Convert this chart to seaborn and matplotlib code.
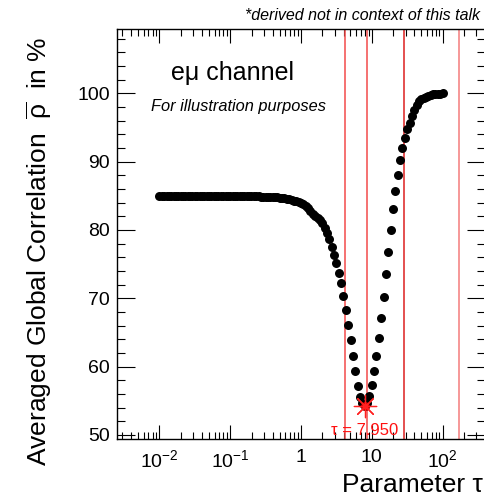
import numpy as np
import pandas as pd
import matplotlib
matplotlib.use("Agg")
import matplotlib.pyplot as plt
import matplotlib.ticker as mticker
import seaborn as sns

# ---------------- data ----------------
tau_exponent_start = -2.0
points_per_decade = 30
rho_values = [
    # tau = 0.01 ... (flat plateau)
    84.93, 84.93, 84.93, 84.93, 84.93, 84.93, 84.93, 84.93, 84.93, 84.93,
    84.93, 84.93, 84.93, 84.93, 84.93, 84.93, 84.93, 84.93, 84.93, 84.93,
    84.93, 84.93, 84.93, 84.93, 84.93, 84.93, 84.93, 84.93, 84.93, 84.93,
    84.93, 84.93, 84.93, 84.93, 84.93, 84.92, 84.92, 84.92, 84.91, 84.91,
    84.90, 84.90, 84.89, 84.88, 84.87, 84.86, 84.84, 84.82, 84.80, 84.78,
    84.75, 84.71, 84.66, 84.61, 84.54, 84.46, 84.38, 84.30, 84.20, 84.10,
    83.95, 83.75, 83.50, 83.15, 82.75, 82.40, 82.10, 81.80, 81.45, 80.95,
    80.35, 79.60, 78.60, 77.50, 76.40, 75.10, 73.70, 72.20, 70.30, 68.30,
    66.10, 63.90, 61.60, 59.30, 57.20, 55.60, 54.60, 54.20, 54.70, 55.70,
    57.30, 59.30, 61.60, 64.20, 67.10, 70.20, 73.50, 76.70, 80.00, 83.00,
    85.70, 88.10, 90.20, 92.00, 93.50, 94.70, 95.70, 96.70, 97.60, 98.30,
    98.80, 99.10, 99.35, 99.50, 99.65, 99.75, 99.82, 99.88, 99.92, 99.96,
    100.0,
]
tau_values = [10 ** (tau_exponent_start + i / points_per_decade) for i in range(len(rho_values))]

tau_best = 7.950
rho_best = 54.20
vline_taus = [4.14, 8.58, 28.3, 173.0]
vline_colors = ["#f24a4a", "#f24a4a", "#dc1f1f", "#f47c7c"]

x_tick_values = [0.01, 0.1, 1, 10, 100]
x_tick_labels = [r"$10^{-2}$", r"$10^{-1}$", "1", "10", r"$10^{2}$"]
y_tick_values = [50, 60, 70, 80, 90, 100]

df = pd.DataFrame({"tau": tau_values, "rho": rho_values})

# ---------------- style ----------------
sns.set_style("white")
plt.rcParams["font.family"] = ["Liberation Sans", "DejaVu Sans"]
plt.rcParams["text.color"] = "black"
plt.rcParams["axes.labelcolor"] = "black"
plt.rcParams["xtick.color"] = "black"
plt.rcParams["ytick.color"] = "black"
plt.rcParams["mathtext.fontset"] = "custom"
plt.rcParams["mathtext.rm"] = "Liberation Sans"
plt.rcParams["mathtext.it"] = "Liberation Sans:italic"
plt.rcParams["mathtext.bf"] = "Liberation Sans:bold"
plt.rcParams["mathtext.sf"] = "Liberation Sans"

W, H = 485, 497
fig = plt.figure(figsize=(W / 100, H / 100), dpi=100)
fig.patch.set_facecolor("white")
ax = fig.add_axes([117 / W, 58 / H, 368 / W, 410 / H])

for xv, c in zip(vline_taus, vline_colors):
    ax.axvline(xv, color=c, lw=1.1, zorder=1)

sns.scatterplot(data=df, x="tau", y="rho", ax=ax, color="black", s=42,
                linewidth=0, zorder=3, legend=False)

# best point
ax.scatter([tau_best], [rho_best], s=40, color="#e00000", linewidths=0, zorder=4)
ax.scatter([tau_best], [rho_best], s=260, marker=(8, 2, 0), color="#ff2020",
           linewidths=0.9, zorder=5)
ax.text(tau_best, 49.55, "τ = 7.950", color="#ff1010", fontsize=12,
        ha="center", va="bottom", zorder=6)

ax.set_xscale("log")
ax.set_xlim(10 ** -2.6, 10 ** 2.6)
ax.set_ylim(49.4, 109.4)

ax.xaxis.set_major_locator(mticker.FixedLocator(x_tick_values))
ax.xaxis.set_major_formatter(mticker.FixedFormatter(x_tick_labels))
ax.xaxis.set_minor_locator(mticker.LogLocator(base=10, subs=np.arange(2, 10)))
ax.xaxis.set_minor_formatter(mticker.NullFormatter())
ax.yaxis.set_major_locator(mticker.FixedLocator(y_tick_values))
ax.yaxis.set_minor_locator(mticker.MultipleLocator(2))

ax.tick_params(which="both", direction="in", top=True, right=True,
               bottom=True, left=True, colors="black", width=0.8)
ax.tick_params(axis="x", which="major", length=10, labelsize=14, pad=7)
ax.tick_params(axis="x", which="minor", length=5)
ax.tick_params(axis="y", which="major", length=13, labelsize=14, pad=5)
ax.tick_params(axis="y", which="minor", length=6)

for sp in ax.spines.values():
    sp.set_color("black")
    sp.set_linewidth(1.0)

ax.set_xlabel("")
ax.set_ylabel("")

fig.text(483 / W, 1 - 485 / H, "Parameter τ", fontsize=19, ha="right", va="center",
         color="black")
fig.text(39 / W, 1 - 251 / H, r"Averaged Global Correlation  $\overline{\mathrm{\rho}}$  in %",
         fontsize=19, rotation=90, ha="center", va="center", color="black")

fig.text(233 / W, 1 - 73 / H, "eμ channel", fontsize=18, ha="center", va="center",
         color="black")
fig.text(239 / W, 1 - 106 / H, "For illustration purposes", fontsize=11.8,
         style="italic", ha="center", va="center", color="black")
fig.text(480 / W, 1 - 16 / H, "*derived not in context of this talk", fontsize=11.5,
         style="italic", ha="right", va="center", color="black")

fig.savefig("out.png", dpi=100, facecolor="white")
